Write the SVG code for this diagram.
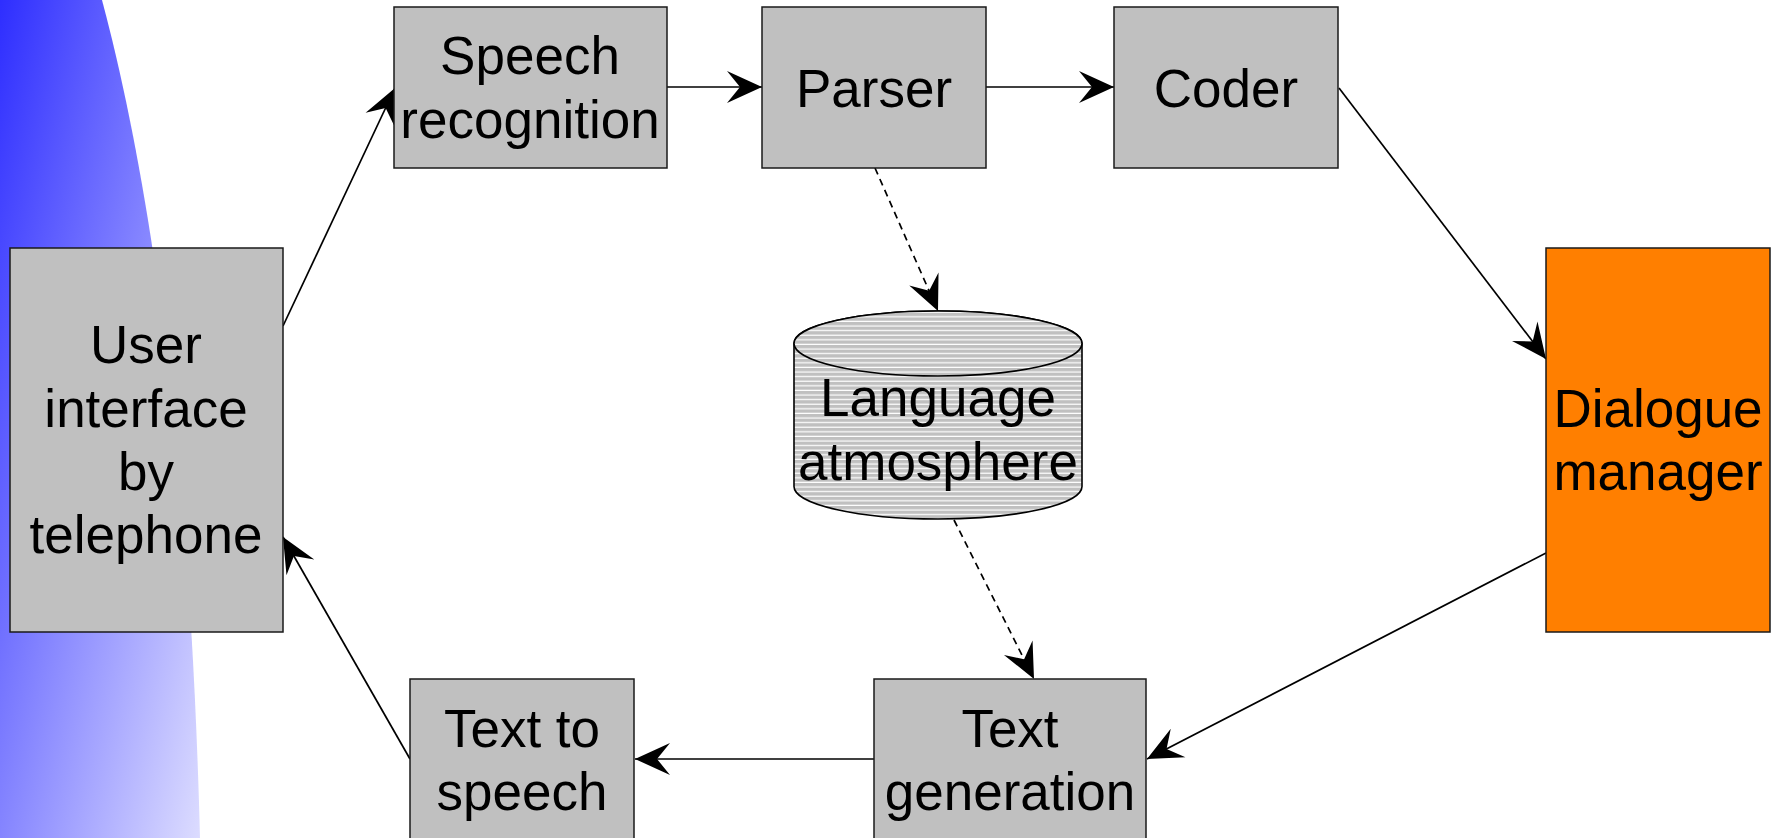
<svg xmlns="http://www.w3.org/2000/svg" width="1781" height="838" viewBox="0 0 1781 838">
  <defs>
    <linearGradient id="sideGrad" gradientUnits="userSpaceOnUse" x1="0" y1="0" x2="378" y2="90">
      <stop offset="0" stop-color="#2e2eff"/>
      <stop offset="1" stop-color="#dcdcff"/>
    </linearGradient>
    <pattern id="hatch" patternUnits="userSpaceOnUse" width="10" height="4.6">
      <rect x="0" y="0" width="10" height="4.6" fill="#c0c0c0"/>
      <rect x="0" y="3.4" width="10" height="1.2" fill="#ffffff"/>
    </pattern>
    <marker id="arrow" markerUnits="userSpaceOnUse" viewBox="-37 -18 38 36" refX="0" refY="0" markerWidth="38" markerHeight="36" orient="auto">
      <path d="M0,0 L-35,-16 L-22,0 L-35,16 Z" fill="#000"/>
    </marker>
  </defs>
  <style>
    .box { fill: #c0c0c0; stroke: #1a1a1a; stroke-width: 1.5; }
    .hot { fill: #ff7f00; stroke: #1a1a1a; stroke-width: 1.5; }
    .lbl { font-family: "Liberation Sans", Arial, sans-serif; font-size: 53px; fill: #000; text-anchor: middle; }
    .link { fill: none; stroke: #000; stroke-width: 1.7; marker-end: url(#arrow); }
    .dash { stroke-dasharray: 7 5; }
  </style>

  <rect x="0" y="0" width="1781" height="838" fill="#ffffff"/>
  <!-- decorative side band -->
  <path d="M0,0 L102,0 C150,180 190,450 200,838 L0,838 Z" fill="url(#sideGrad)"/>

  <g id="connectors">
    <line class="link" x1="283" y1="326" x2="395" y2="88"/>
    <line class="link" x1="667" y1="87" x2="762" y2="87"/>
    <line class="link" x1="986" y1="87" x2="1114" y2="87"/>
    <line class="link" x1="1339" y1="88" x2="1546" y2="359"/>
    <line class="link" x1="1546" y1="553" x2="1147" y2="759"/>
    <line class="link" x1="874" y1="759" x2="635" y2="759"/>
    <line class="link" x1="410" y1="759" x2="283" y2="537"/>
    <line class="link dash" x1="875" y1="168" x2="938" y2="311"/>
    <line class="link dash" x1="954" y1="520" x2="1034" y2="679"/>
  </g>

  <g id="user-interface">
    <rect class="box" x="10" y="248" width="273" height="384"/>
    <text class="lbl" x="146" y="363">User</text>
    <text class="lbl" x="146" y="427">interface</text>
    <text class="lbl" x="146" y="490">by</text>
    <text class="lbl" x="146" y="553">telephone</text>
  </g>

  <g id="speech-recognition">
    <rect class="box" x="394" y="7" width="273" height="161"/>
    <text class="lbl" x="530" y="74">Speech</text>
    <text class="lbl" x="530" y="138">recognition</text>
  </g>

  <g id="parser">
    <rect class="box" x="762" y="7" width="224" height="161"/>
    <text class="lbl" x="874" y="107">Parser</text>
  </g>

  <g id="coder">
    <rect class="box" x="1114" y="7" width="224" height="161"/>
    <text class="lbl" x="1226" y="107">Coder</text>
  </g>

  <g id="dialogue-manager">
    <rect class="hot" x="1546" y="248" width="224" height="384"/>
    <text class="lbl" x="1658" y="427">Dialogue</text>
    <text class="lbl" x="1658" y="490">manager</text>
  </g>

  <g id="language-atmosphere">
    <path d="M794,343.5 A144,32.5 0 0 1 1082,343.5 L1082,486.5 A144,32.5 0 0 1 794,486.5 Z" fill="url(#hatch)" stroke="#000" stroke-width="1.6"/>
    <ellipse cx="938" cy="343.5" rx="144" ry="32.5" fill="url(#hatch)" stroke="#000" stroke-width="1.6"/>
    <text class="lbl" x="938" y="416">Language</text>
    <text class="lbl" x="938" y="480">atmosphere</text>
  </g>

  <g id="text-generation">
    <rect class="box" x="874" y="679" width="272" height="180"/>
    <text class="lbl" x="1010" y="747">Text</text>
    <text class="lbl" x="1010" y="810">generation</text>
  </g>

  <g id="text-to-speech">
    <rect class="box" x="410" y="679" width="224" height="180"/>
    <text class="lbl" x="522" y="747">Text to</text>
    <text class="lbl" x="522" y="810">speech</text>
  </g>
</svg>
